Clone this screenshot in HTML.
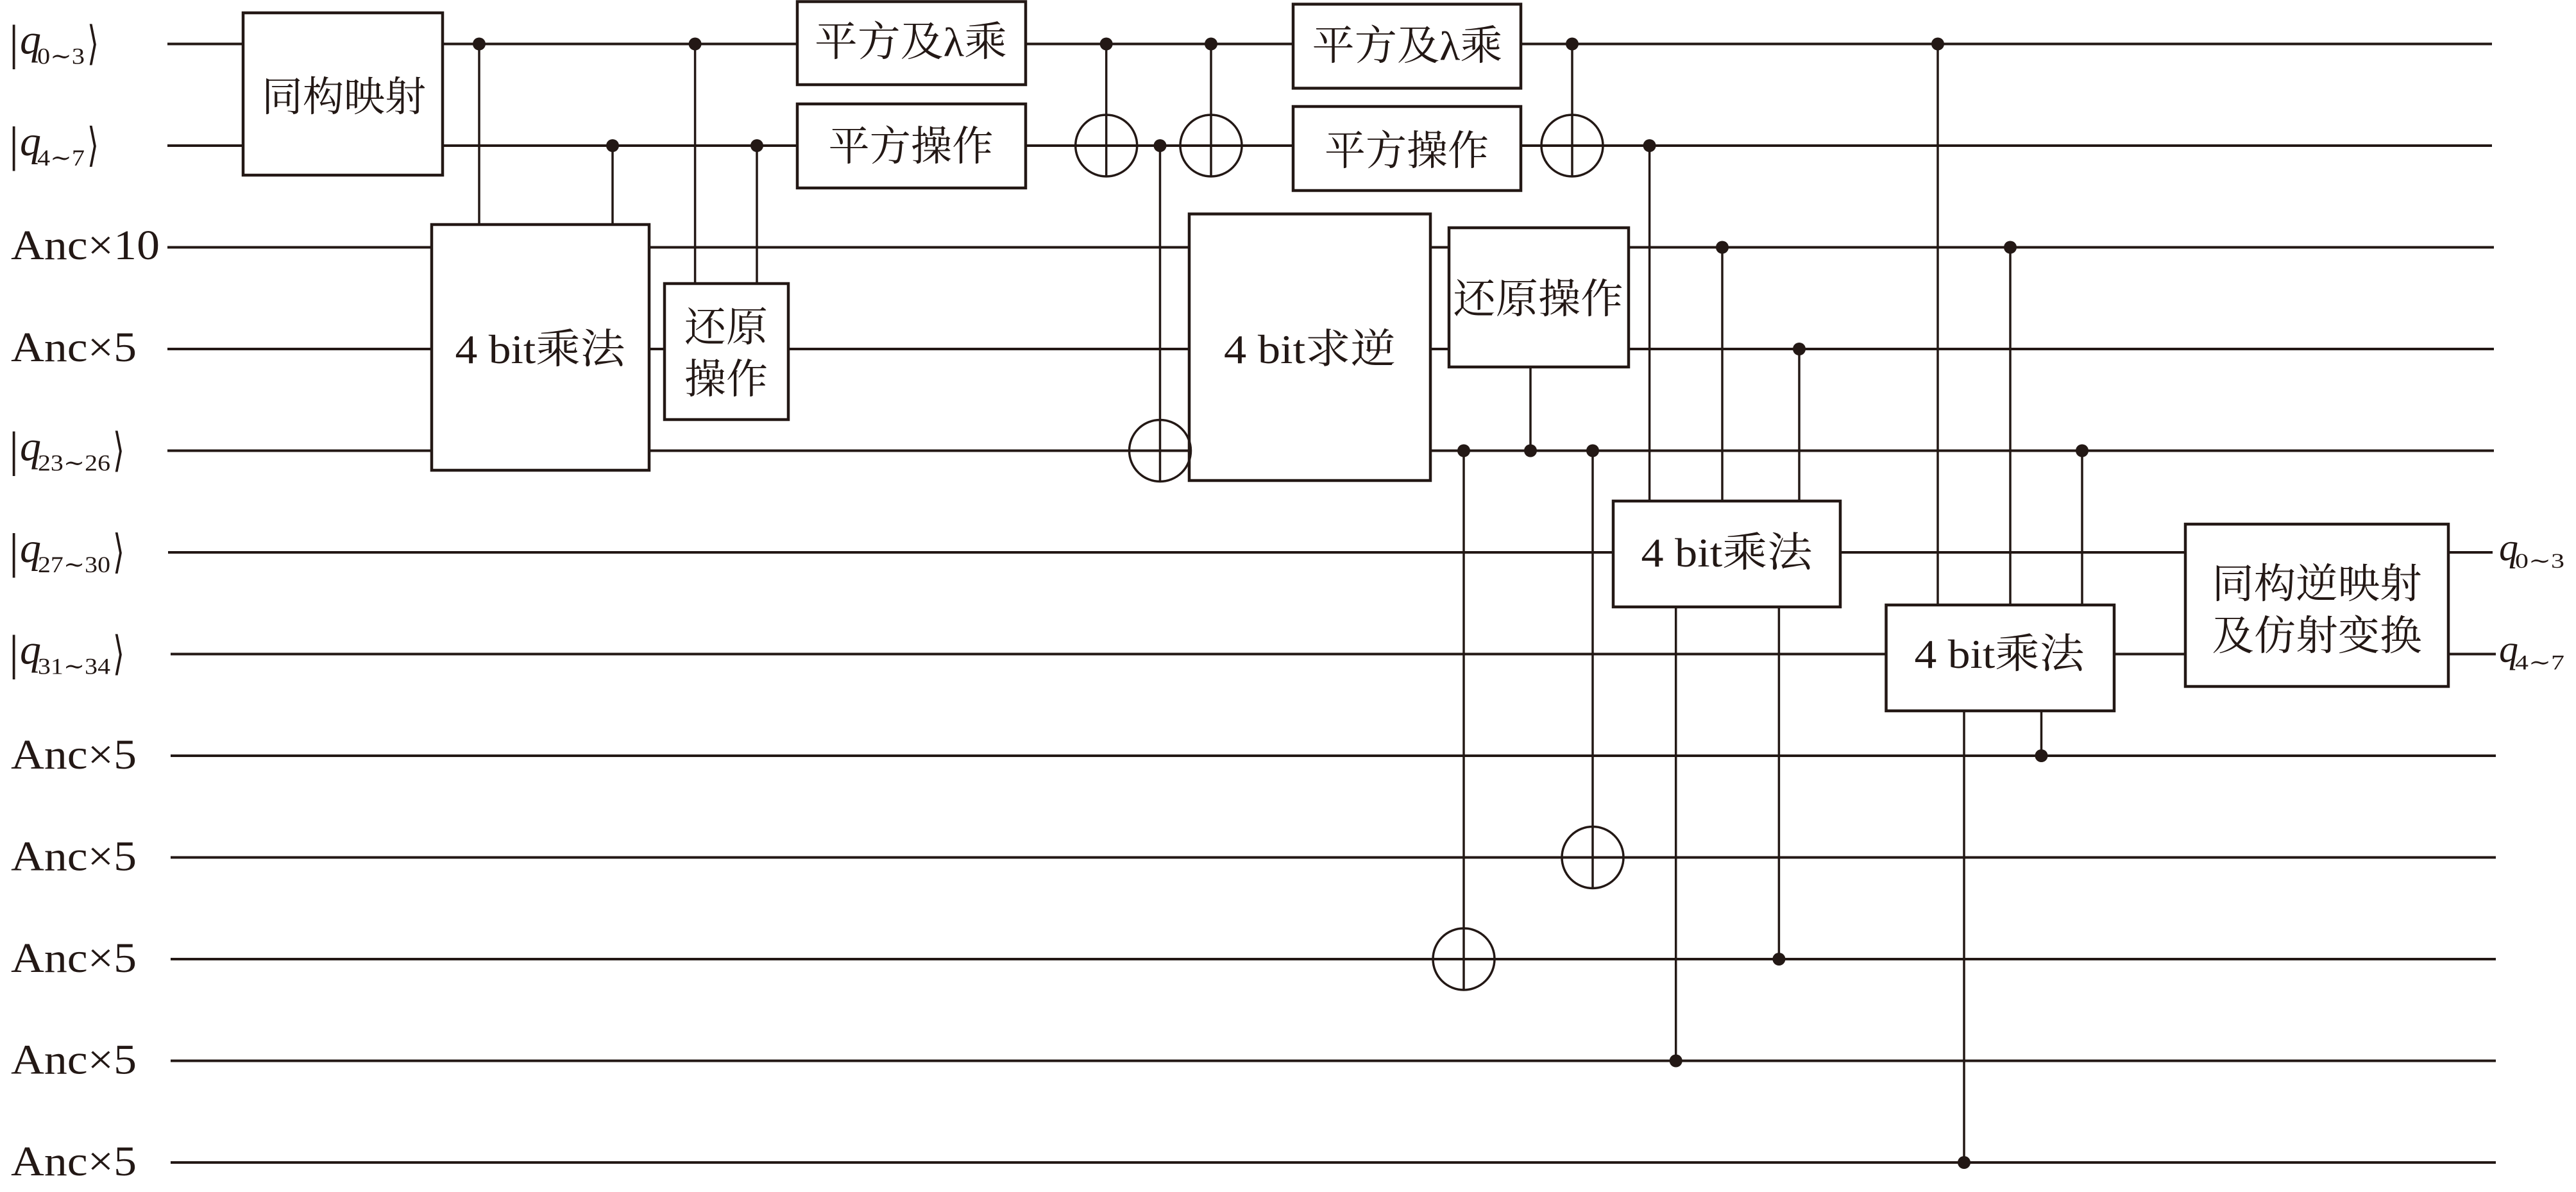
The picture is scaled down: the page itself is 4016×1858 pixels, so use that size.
<!DOCTYPE html>
<html>
<head>
<meta charset="utf-8">
<style>
  html, body { margin: 0; padding: 0; background: #ffffff; }
  svg { display: block; }
  .w { stroke: #231815; stroke-width: 4; fill: none; }
  .v { stroke: #231815; stroke-width: 3.5; fill: none; }
  .b { stroke: #231815; stroke-width: 4.5; fill: #ffffff; }
  .o { stroke: #231815; stroke-width: 3.5; fill: none; }
  .d { fill: #231815; }
  .t { font-family: "Liberation Serif", "Noto Serif CJK SC", serif; fill: #231815; font-size: 64px; }
  .lab { font-family: "Liberation Serif", "DejaVu Serif", serif; fill: #231815; }
  .qi { font-family: "Liberation Serif", serif; font-style: italic; fill: #231815; }
  .br { font-family: "DejaVu Serif", "DejaVu Sans", serif; fill: #231815; }
</style>
</head>
<body>
<svg width="4016" height="1858" viewBox="0 0 4016 1858" xmlns="http://www.w3.org/2000/svg">
  <rect x="0" y="0" width="4016" height="1858" fill="#ffffff"/>

  <!-- wires -->
  <g class="w">
    <line x1="261" y1="68.5" x2="3885" y2="68.5"/>
    <line x1="261" y1="227" x2="3885" y2="227"/>
    <line x1="261" y1="385.5" x2="3888" y2="385.5"/>
    <line x1="261" y1="544" x2="3888" y2="544"/>
    <line x1="261" y1="702.5" x2="3888" y2="702.5"/>
    <line x1="262" y1="861" x2="3886" y2="861"/>
    <line x1="266" y1="1019.5" x2="3891" y2="1019.5"/>
    <line x1="266" y1="1178" x2="3891" y2="1178"/>
    <line x1="266" y1="1336.5" x2="3891" y2="1336.5"/>
    <line x1="266" y1="1495" x2="3891" y2="1495"/>
    <line x1="266" y1="1653.5" x2="3891" y2="1653.5"/>
    <line x1="266" y1="1812" x2="3891" y2="1812"/>
  </g>

  <!-- vertical connectors -->
  <g class="v">
    <line x1="747" y1="68.5" x2="747" y2="350"/>
    <line x1="955" y1="227" x2="955" y2="350"/>
    <line x1="1083.6" y1="68.5" x2="1083.6" y2="442"/>
    <line x1="1180" y1="227" x2="1180" y2="442"/>
    <line x1="1724.7" y1="68.5" x2="1724.7" y2="275"/>
    <line x1="1888" y1="68.5" x2="1888" y2="275"/>
    <line x1="1808.5" y1="227" x2="1808.5" y2="750.5"/>
    <line x1="2451" y1="68.5" x2="2451" y2="275"/>
    <line x1="2571.6" y1="227" x2="2571.6" y2="781"/>
    <line x1="2386" y1="572" x2="2386" y2="702.5"/>
    <line x1="2282" y1="702.5" x2="2282" y2="1543"/>
    <line x1="2483" y1="702.5" x2="2483" y2="1384.5"/>
    <line x1="2685" y1="385.5" x2="2685" y2="781"/>
    <line x1="2805" y1="544" x2="2805" y2="781"/>
    <line x1="2612.7" y1="946" x2="2612.7" y2="1653.5"/>
    <line x1="2773.4" y1="946" x2="2773.4" y2="1495"/>
    <line x1="3021" y1="68.5" x2="3021" y2="943"/>
    <line x1="3134" y1="385.5" x2="3134" y2="943"/>
    <line x1="3246" y1="702.5" x2="3246" y2="943"/>
    <line x1="3062" y1="1108" x2="3062" y2="1812"/>
    <line x1="3182.5" y1="1108" x2="3182.5" y2="1178"/>
  </g>

  <!-- boxes -->
  <g class="b">
    <rect x="379" y="20" width="311" height="253"/>
    <rect x="673" y="350" width="339" height="383"/>
    <rect x="1036" y="442" width="193" height="212"/>
    <rect x="1243" y="2.5" width="356" height="129.5"/>
    <rect x="1243" y="162" width="356" height="131"/>
    <rect x="2016" y="6.5" width="355" height="131"/>
    <rect x="2016" y="166" width="355" height="131"/>
    <rect x="1854" y="333.5" width="376" height="415.5"/>
    <rect x="2259" y="355" width="280" height="217"/>
    <rect x="2515" y="781" width="354" height="165"/>
    <rect x="2940.5" y="943" width="355.5" height="165"/>
    <rect x="3407" y="817" width="410" height="253"/>
  </g>

  <!-- oplus targets -->
  <g class="o">
    <circle cx="1724.7" cy="227" r="48"/>
    <circle cx="1888" cy="227" r="48"/>
    <circle cx="2451" cy="227" r="48"/>
    <circle cx="1808.5" cy="702.5" r="48"/>
    <circle cx="2483" cy="1336.5" r="48"/>
    <circle cx="2282" cy="1495" r="48"/>
  </g>

  <!-- control dots -->
  <g class="d">
    <circle cx="747" cy="68.5" r="10"/>
    <circle cx="955" cy="227" r="10"/>
    <circle cx="1083.6" cy="68.5" r="10"/>
    <circle cx="1180" cy="227" r="10"/>
    <circle cx="1724.7" cy="68.5" r="10"/>
    <circle cx="1888" cy="68.5" r="10"/>
    <circle cx="1808.5" cy="227" r="10"/>
    <circle cx="2451" cy="68.5" r="10"/>
    <circle cx="2571.6" cy="227" r="10"/>
    <circle cx="2282" cy="702.5" r="10"/>
    <circle cx="2386" cy="702.5" r="10"/>
    <circle cx="2483" cy="702.5" r="10"/>
    <circle cx="2685" cy="385.5" r="10"/>
    <circle cx="2805" cy="544" r="10"/>
    <circle cx="3021" cy="68.5" r="10"/>
    <circle cx="3134" cy="385.5" r="10"/>
    <circle cx="3246" cy="702.5" r="10"/>
    <circle cx="2612.7" cy="1653.5" r="10"/>
    <circle cx="2773.4" cy="1495" r="10"/>
    <circle cx="3062" cy="1812" r="10"/>
    <circle cx="3182.5" cy="1178" r="10"/>
  </g>

  <!-- box labels -->
  <g class="t" text-anchor="middle">
    <text x="536" y="173" textLength="256" lengthAdjust="spacingAndGlyphs">同构映射</text>
    <text x="842" y="566" textLength="265" lengthAdjust="spacingAndGlyphs">4 bit乘法</text>
    <text x="1132" y="532" textLength="130" lengthAdjust="spacingAndGlyphs">还原</text>
    <text x="1132" y="613" textLength="130" lengthAdjust="spacingAndGlyphs">操作</text>
    <text x="1420" y="87" textLength="300" lengthAdjust="spacingAndGlyphs">平方及λ乘</text>
    <text x="1420" y="250" textLength="257" lengthAdjust="spacingAndGlyphs">平方操作</text>
    <text x="2194" y="93" textLength="297" lengthAdjust="spacingAndGlyphs">平方及λ乘</text>
    <text x="2193" y="257" textLength="256" lengthAdjust="spacingAndGlyphs">平方操作</text>
    <text x="2042" y="566" textLength="268" lengthAdjust="spacingAndGlyphs">4 bit求逆</text>
    <text x="2398" y="488" textLength="265" lengthAdjust="spacingAndGlyphs">还原操作</text>
    <text x="2692" y="883" textLength="267" lengthAdjust="spacingAndGlyphs">4 bit乘法</text>
    <text x="3117" y="1041" textLength="265" lengthAdjust="spacingAndGlyphs">4 bit乘法</text>
    <text x="3612" y="932" textLength="327" lengthAdjust="spacingAndGlyphs">同构逆映射</text>
    <text x="3612" y="1013" textLength="327" lengthAdjust="spacingAndGlyphs">及仿射变换</text>
  </g>

  <!-- left labels: kets -->
  <!-- row 0 -->
  <text class="lab" x="14" y="91.5" font-size="76">|</text>
  <text class="qi" x="31" y="83.5" font-size="66">q</text>
  <text class="lab" x="58" y="99.5" font-size="36" textLength="74" lengthAdjust="spacingAndGlyphs">0∼3</text>
  <text class="br" x="136" y="92" font-size="72" textLength="18" lengthAdjust="spacingAndGlyphs">⟩</text>
  <!-- row 1 -->
  <text class="lab" x="14" y="250" font-size="76">|</text>
  <text class="qi" x="31" y="242" font-size="66">q</text>
  <text class="lab" x="58" y="258" font-size="36" textLength="74" lengthAdjust="spacingAndGlyphs">4∼7</text>
  <text class="br" x="136" y="250.5" font-size="72" textLength="18" lengthAdjust="spacingAndGlyphs">⟩</text>
  <!-- row 2,3 -->
  <text class="lab" x="17" y="404" font-size="66" textLength="232" lengthAdjust="spacingAndGlyphs">Anc×10</text>
  <text class="lab" x="17" y="563" font-size="66" textLength="196" lengthAdjust="spacingAndGlyphs">Anc×5</text>
  <!-- row 4 -->
  <text class="lab" x="14" y="725.5" font-size="76">|</text>
  <text class="qi" x="31" y="717.5" font-size="66">q</text>
  <text class="lab" x="59" y="733.5" font-size="36" textLength="113" lengthAdjust="spacingAndGlyphs">23∼26</text>
  <text class="br" x="176" y="726" font-size="72" textLength="18" lengthAdjust="spacingAndGlyphs">⟩</text>
  <!-- row 5 -->
  <text class="lab" x="14" y="884" font-size="76">|</text>
  <text class="qi" x="31" y="876" font-size="66">q</text>
  <text class="lab" x="59" y="892" font-size="36" textLength="113" lengthAdjust="spacingAndGlyphs">27∼30</text>
  <text class="br" x="176" y="884.5" font-size="72" textLength="18" lengthAdjust="spacingAndGlyphs">⟩</text>
  <!-- row 6 -->
  <text class="lab" x="14" y="1042.5" font-size="76">|</text>
  <text class="qi" x="31" y="1034.5" font-size="66">q</text>
  <text class="lab" x="59" y="1050.5" font-size="36" textLength="113" lengthAdjust="spacingAndGlyphs">31∼34</text>
  <text class="br" x="176" y="1043" font-size="72" textLength="18" lengthAdjust="spacingAndGlyphs">⟩</text>
  <!-- rows 7-11 -->
  <text class="lab" x="17" y="1198" font-size="66" textLength="196" lengthAdjust="spacingAndGlyphs">Anc×5</text>
  <text class="lab" x="17" y="1356.5" font-size="66" textLength="196" lengthAdjust="spacingAndGlyphs">Anc×5</text>
  <text class="lab" x="17" y="1515" font-size="66" textLength="196" lengthAdjust="spacingAndGlyphs">Anc×5</text>
  <text class="lab" x="17" y="1673.5" font-size="66" textLength="196" lengthAdjust="spacingAndGlyphs">Anc×5</text>
  <text class="lab" x="17" y="1832" font-size="66" textLength="196" lengthAdjust="spacingAndGlyphs">Anc×5</text>

  <!-- right labels -->
  <text class="qi" x="3896" y="873" font-size="60">q</text>
  <text class="lab" x="3921" y="885" font-size="33" textLength="77" lengthAdjust="spacingAndGlyphs">0∼3</text>
  <text class="qi" x="3896" y="1031.5" font-size="60">q</text>
  <text class="lab" x="3921" y="1043.5" font-size="33" textLength="77" lengthAdjust="spacingAndGlyphs">4∼7</text>
</svg>
</body>
</html>
